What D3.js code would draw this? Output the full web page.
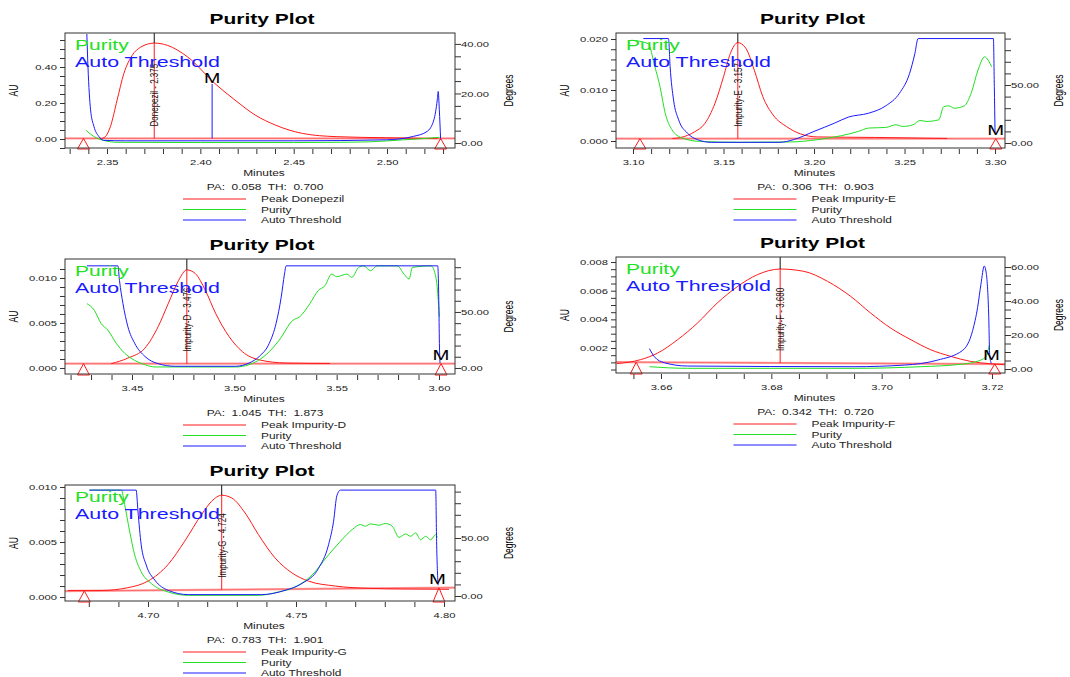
<!DOCTYPE html>
<html>
<head>
  <meta charset="utf-8">
  <title>Purity Plots</title>
  <script src="https://cdn.jsdelivr.net/npm/d3@7"></script>
  <style>
    body { margin: 0; background: #fff; }
    text { font-family: "Liberation Sans", Arial, sans-serif; white-space: pre; }
  </style>
</head>
<body>
<div id="chart"></div>
<script>
  // ---- data: [minutes, value] ----
  // peak = AU (left axis), purity / threshold = degrees (right axis)
  var donepezilPeak = [[2.3464,0.000],[2.3491,0.013],[2.3518,0.068],[2.3554,0.216],[2.3590,0.363],[2.3635,0.465],
    [2.3680,0.510],[2.3753,0.533],[2.3825,0.520],[2.3933,0.455],[2.4078,0.308],[2.4186,0.216],[2.4294,0.133],
    [2.4403,0.077],[2.4547,0.031],[2.4727,0.013],[2.4998,0.007],[2.5270,0.002]];
  var donepezilPurity = [[2.3388,5.1],[2.3428,2.7],[2.3482,1.07],[2.3554,0.3],[2.4000,0.2],[2.4500,0.2],
    [2.4727,0.3],[2.4908,0.5],[2.5088,1.3],[2.5233,2.0],[2.5280,2.3]];
  var donepezilThreshold = [[2.3392,44],[2.3398,30.9],[2.3412,13.4],[2.3430,6.7],[2.3456,2.7],[2.3482,1.1],
    [2.3600,0.9],[2.4500,0.9],[2.4998,1.3],[2.5142,2.7],[2.5215,4.7],[2.5251,9.4],[2.5269,17.4],[2.5274,20.8],
    [2.5280,13.4],[2.5287,1.3]];

  var impEPeak = [[3.1217,0.0005],[3.1264,0.0007],[3.1340,0.0018],[3.1396,0.0034],[3.1453,0.0074],[3.1500,0.0126],
    [3.1538,0.0172],[3.1579,0.0193],[3.1623,0.0182],[3.1670,0.0139],[3.1717,0.0087],[3.1774,0.0051],[3.1849,0.0028],
    [3.1925,0.0014],[3.2019,0.0008],[3.2340,0.0007],[3.2736,0.0005]];
  var impEPurity = [[3.0991,88.6],[3.1083,85.7],[3.1121,65.7],[3.1149,48.6],[3.1178,25.7],[3.1215,11.4],[3.1272,4.3],
    [3.1366,1.4],[3.1585,0.6],[3.1868,0.9],[3.2019,2.9],[3.2151,6.3],[3.2245,10],[3.2302,12.9],[3.2396,13.4],
    [3.2453,15.7],[3.2491,14.3],[3.2547,15.7],[3.2585,19.4],[3.2623,18.6],[3.2689,20],[3.2717,31.4],[3.2745,32],
    [3.2774,30],[3.2830,32],[3.2868,42.9],[3.2906,62.9],[3.2943,74.3],[3.2962,71.4],[3.2981,65.7]];
  var impEThreshold = [[3.1057,90],[3.1196,90],[3.1205,65.7],[3.1224,37],[3.1252,20],[3.1300,8.6],[3.1356,2.9],
    [3.1432,0.6],[3.1811,0.6],[3.1887,2.9],[3.2000,10],[3.2113,17.1],[3.2189,22.3],[3.2302,25.7],[3.2396,32],
    [3.2472,42.9],[3.2528,60],[3.2557,77],[3.2575,90],[3.2991,90],[3.2996,48.6],[3.3000,8.6]];

  var impDPeak = [[3.4398,0.00048],[3.4480,0.0011],[3.4563,0.0022],[3.4628,0.0046],[3.4678,0.0072],[3.4727,0.0097],
    [3.4768,0.0109],[3.4809,0.0105],[3.4859,0.0086],[3.4908,0.0061],[3.4974,0.0035],[3.5040,0.0018],[3.5122,0.0009],
    [3.5253,0.00055],[3.5467,0.0005]];
  var impDPurity = [[3.4280,57.4],[3.4316,51.5],[3.4349,39.7],[3.4382,33.8],[3.4423,22.1],[3.4464,13.2],[3.4513,6.8],
    [3.4563,2.9],[3.4612,0.9],[3.5007,0.9],[3.5072,2.9],[3.5155,11.8],[3.5220,25],[3.5286,42.6],[3.5319,45.6],
    [3.5369,57.4],[3.5410,69.1],[3.5443,73.5],[3.5475,83.8],[3.5500,81.5],[3.5550,83.8],[3.5574,80.9],[3.5607,89.7],
    [3.5632,91.2],[3.5665,86.8],[3.5698,91.2],[3.5796,91.2],[3.5829,83.8],[3.5854,79.4],[3.5870,89.7],[3.5961,91.2],
    [3.5985,80.9],[3.6002,45.6]];
  var impDThreshold = [[3.4280,91.2],[3.4431,91.2],[3.4439,77.9],[3.4456,57.4],[3.4480,36.8],[3.4513,22.1],
    [3.4563,10.3],[3.4628,3.8],[3.4711,1.5],[3.5007,1.5],[3.5072,4.4],[3.5122,10.3],[3.5171,22.1],[3.5204,39.7],
    [3.5229,63.2],[3.5245,83.8],[3.5253,91.2],[3.5994,91.2],[3.5999,60.3],[3.6002,22],[3.6005,4.4]];

  var impFPeak = [[3.6520,0.00091],[3.6563,0.00119],[3.6594,0.00165],[3.6630,0.00258],[3.6666,0.00374],
    [3.6702,0.00514],[3.6739,0.0063],[3.6775,0.00712],[3.6816,0.00751],[3.6859,0.00735],[3.6902,0.00665],
    [3.6944,0.0056],[3.6980,0.00444],[3.7016,0.0034],[3.7053,0.00258],[3.7089,0.00188],[3.7125,0.00142],
    [3.7161,0.00107],[3.7198,0.0009],[3.7222,0.00084]];
  var impFPurity = [[3.6579,1.36],[3.6648,0.4],[3.6950,0.4],[3.7071,1.36],[3.7141,2.7],[3.7171,4.3],[3.7189,7.2],
    [3.7195,14]];
  var impFThreshold = [[3.6579,12],[3.6588,7.2],[3.6606,3.7],[3.6648,1.75],[3.6950,1.36],[3.7041,2.3],[3.7101,5.2],
    [3.7147,11],[3.7165,22.7],[3.7174,36.3],[3.7180,49.9],[3.7186,60.6],[3.7189,57.7],[3.7194,32.4],[3.7196,7.2],
    [3.7199,3.3]];

  var impGPeak = [[4.6729,0.0006],[4.6842,0.0006],[4.6932,0.00085],[4.7000,0.00145],[4.7068,0.00296],[4.7124,0.00508],
    [4.7181,0.0075],[4.7215,0.0087],[4.7249,0.00925],[4.7283,0.0090],[4.7328,0.00764],[4.7373,0.00568],
    [4.7429,0.00356],[4.7486,0.0022],[4.7542,0.00145],[4.7633,0.0010],[4.7746,0.00079],[4.7859,0.00073],
    [4.8017,0.0007]];
  var impGPurity = [[4.6802,91.3],[4.6910,91.3],[4.6921,79],[4.6938,55.8],[4.6955,35.5],[4.6977,20.9],[4.7011,10.8],
    [4.7068,3.5],[4.7136,0.6],[4.7373,0.6],[4.7441,3.5],[4.7497,7.8],[4.7554,18],[4.7610,35.5],[4.7655,48.5],
    [4.7690,57.3],[4.7718,61.6],[4.7735,60.2],[4.7751,62.2],[4.7780,61],[4.7802,62.5],[4.7825,60.2],[4.7848,50.6],
    [4.7870,53.5],[4.7887,51.5],[4.7904,54.4],[4.7921,48.5],[4.7938,51.5],[4.7955,48.5],[4.7972,52.9],[4.7978,50.6]];
  var impGThreshold = [[4.6802,91.3],[4.6960,91.3],[4.6966,73.3],[4.6977,44.2],[4.6994,26.7],[4.7023,13.7],
    [4.7068,4.9],[4.7136,1.2],[4.7384,1.2],[4.7463,4.9],[4.7520,10.8],[4.7576,23.8],[4.7610,44.2],[4.7627,64.5],
    [4.7638,86.3],[4.7650,91.3],[4.7972,91.3],[4.7975,47],[4.7980,9.3]];

  // tick labels
  var p1XTicks = ["2.35","2.40","2.45","2.50"], p1AuTicks = ["0.00","0.20","0.40"], p1DegTicks = ["0.00","20.00","40.00"];
  var p2XTicks = ["3.10","3.15","3.20","3.25","3.30"], p2AuTicks = ["0.000","0.010","0.020"], p2DegTicks = ["0.00","50.00"];
  var p3XTicks = ["3.45","3.50","3.55","3.60"], p3AuTicks = ["0.000","0.005","0.010"], p3DegTicks = ["0.00","50.00"];
  var p4XTicks = ["3.66","3.68","3.70","3.72"], p4AuTicks = ["0.002","0.004","0.006","0.008"], p4DegTicks = ["0.00","20.00","40.00","60.00"];
  var p5XTicks = ["4.70","4.75","4.80"], p5AuTicks = ["0.000","0.005","0.010"], p5DegTicks = ["0.00","50.00"];

  var panels = [
    { box: {left: 65, right: 455, top: 33, bottom: 148}, x: [2.3275, 2.5364], au: [-0.05, 0.589], deg: [-2.0, 44.4],
      xMinor: [2.33, 0.01, 21], auMinor: [-0.05, 0.05, 13], degMinor: [0, 5, 9],
      xTicks: p1XTicks, auTicks: p1AuTicks, degTicks: p1DegTicks,
      peak: donepezilPeak, purity: donepezilPurity, threshold: donepezilThreshold,
      baseline: [[2.3275, 0.003], [2.5364, 0.003]], marks: [2.3374, 2.5287],
      apex: [2.3753, 0.533], name: "Donepezil", rt: "2.375", m: [2.4063, 0.306],
      pa: "PA:  0.058  TH:  0.700" },
    { box: {left: 616, right: 1005, top: 33, bottom: 148}, x: [3.0906, 3.3055], au: [-0.00137, 0.02118], deg: [-4.3, 94.8],
      xMinor: [3.10, 0.01, 21], auMinor: [0, 0.002, 11], degMinor: [0, 10, 10],
      xTicks: p2XTicks, auTicks: p2AuTicks, degTicks: p2DegTicks,
      peak: impEPeak, purity: impEPurity, threshold: impEThreshold,
      baseline: [[3.0906, 0.00046], [3.3055, 0.00046]], marks: [3.1038, 3.3004],
      apex: [3.1579, 0.0193], name: "Impurity-E", rt: "3.157", m: [3.3004, null],
      pa: "PA:  0.306  TH:  0.903" },
    { box: {left: 65, right: 455, top: 259, bottom: 374}, x: [3.41727, 3.60782], au: [-0.00067, 0.01211], deg: [-5.4, 97.3],
      xMinor: [3.42, 0.01, 19], auMinor: [0, 0.001, 12], degMinor: [0, 10, 10],
      xTicks: p3XTicks, auTicks: p3AuTicks, degTicks: p3DegTicks,
      peak: impDPeak, purity: impDPurity, threshold: impDThreshold,
      baseline: [[3.41727, 0.00048], [3.60782, 0.00048]], marks: [3.4263, 3.6010],
      apex: [3.4768, 0.0109], name: "Impurity-D", rt: "3.476", m: [3.6010, null],
      pa: "PA:  1.045  TH:  1.873" },
    { box: {left: 616, right: 1005, top: 257, bottom: 373}, x: [3.65184, 3.72236], au: [0.000258, 0.00835], deg: [-2.35, 65.9],
      xMinor: [3.655, 0.005, 14], auMinor: [0.0005, 0.0005, 16], degMinor: [0, 5, 13],
      xTicks: p4XTicks, auTicks: p4AuTicks, degTicks: p4DegTicks,
      peak: impFPeak, purity: impFPurity, threshold: impFThreshold,
      baseline: [[3.65184, 0.00102], [3.72236, 0.00088]], marks: [3.6555, 3.7205],
      apex: [3.6816, 0.00751], name: "Impurity-F", rt: "3.680", m: [3.7199, null],
      pa: "PA:  0.342  TH:  0.720" },
    { box: {left: 65, right: 455, top: 485, bottom: 601}, x: [4.67196, 4.80372], au: [-0.00036, 0.01018], deg: [-4.3, 95.7],
      xMinor: [4.68, 0.01, 13], auMinor: [0, 0.001, 11], degMinor: [0, 10, 10],
      xTicks: p5XTicks, auTicks: p5AuTicks, degTicks: p5DegTicks,
      peak: impGPeak, purity: impGPurity, threshold: impGThreshold,
      baseline: [[4.67196, 0.00054], [4.80372, 0.00085]], marks: [4.6785, 4.7983],
      apex: [4.7249, 0.00925], name: "Impurity-G", rt: "4.724", m: [4.7978, null],
      pa: "PA:  0.783  TH:  1.901" }
  ];

  var SX = 1.4;   // the export is stretched sideways, so is all its text
  var RED = "#ff1a1a", GREEN = "#22e022", BLUE = "#1a1aff";

  var svg = d3.select("#chart").append("svg")
    .attr("width", 1070).attr("height", 677)
    .style("background", "#fff");

  function txt(g, x, y, s, o) {
    o = o || {};
    var t = g.append("text")
      .attr("transform", "translate(" + x + "," + y + ") scale(" + SX + ",1)" + (o.rotate ? " rotate(-90)" : ""))
      .attr("text-anchor", o.anchor || "start")
      .attr("font-size", o.size || 8)
      .attr("fill", o.color || "#000")
      .text(s);
    if (o.bold) t.attr("font-weight", "bold");
    return t;
  }

  function tickVals(m) {
    return d3.range(m[2]).map(function(i) { return +(m[0] + i * m[1]).toFixed(6); });
  }
  function labelFor(labels, step) {
    return function(v) {
      var l = labels.find(function(s) { return Math.abs(+s - v) < step / 10; });
      return l || "";
    };
  }
  function styleAxis(a) {
    a.attr("font-size", null).attr("font-family", null);
    a.select(".domain").remove();
    a.selectAll(".tick line").attr("stroke", "#333");
    a.selectAll(".tick text").attr("font-size", 8).attr("fill", "#222");
  }

  panels.forEach(function(p, idx) {
    var b = p.box;
    var g = svg.append("g");
    var x = d3.scaleLinear().domain(p.x).range([b.left, b.right]);
    var yA = d3.scaleLinear().domain(p.au).range([b.bottom, b.top]);
    var yD = d3.scaleLinear().domain(p.deg).range([b.bottom, b.top]);
    var cx = (b.left + b.right) / 2;

    txt(g, cx + 2, b.top - 9, "Purity Plot", {size: 15, bold: true, anchor: "middle"});

    // axes
    var ax = g.append("g").attr("transform", "translate(" + b.left + ",0)")
      .call(d3.axisLeft(yA).tickValues(tickVals(p.auMinor)).tickSize(5).tickFormat(labelFor(p.auTicks, p.auMinor[1])));
    styleAxis(ax);
    ax.selectAll(".tick text").attr("x", -8 / SX).attr("transform", "scale(" + SX + ",1)");

    var ad = g.append("g").attr("transform", "translate(" + b.right + ",0)")
      .call(d3.axisRight(yD).tickValues(tickVals(p.degMinor)).tickSize(6).tickFormat(labelFor(p.degTicks, p.degMinor[1])));
    styleAxis(ad);
    ad.selectAll(".tick text").attr("x", 6 / SX).attr("transform", "scale(" + SX + ",1)");

    var axb = g.append("g").attr("transform", "translate(0," + (b.bottom + 1) + ")")
      .call(d3.axisBottom(x).tickValues(tickVals(p.xMinor)).tickSize(5).tickPadding(5).tickFormat(labelFor(p.xTicks, p.xMinor[1])));
    styleAxis(axb);
    axb.selectAll(".tick text").attr("transform", "scale(" + SX + ",1)");

    txt(g, b.left - 47, (b.top + b.bottom) / 2, "AU", {size: 8.5, rotate: true, anchor: "middle"});
    txt(g, b.right + 58, (b.top + b.bottom) / 2, "Degrees", {size: 8.5, rotate: true, anchor: "middle"});

    // plot area
    g.append("clipPath").attr("id", "clip" + idx)
      .append("rect").attr("x", b.left).attr("y", b.top).attr("width", b.right - b.left).attr("height", b.bottom - b.top);
    var plot = g.append("g").attr("clip-path", "url(#clip" + idx + ")");

    var lineA = d3.line().x(function(d) { return x(d[0]); }).y(function(d) { return yA(d[1]); });
    var lineD = d3.line().x(function(d) { return x(d[0]); }).y(function(d) { return yD(d[1]); }).curve(d3.curveMonotoneX);
    var curveA = d3.line().x(function(d) { return x(d[0]); }).y(function(d) { return yA(d[1]); }).curve(d3.curveMonotoneX);

    // baseline: light pink band with a faint red core
    plot.append("path").datum(p.baseline).attr("d", lineA)
      .attr("fill", "none").attr("stroke", "#ffa3a3").attr("stroke-width", 2.2);
    plot.append("path").datum(p.baseline).attr("d", lineA)
      .attr("fill", "none").attr("stroke", RED).attr("stroke-opacity", 0.55).attr("stroke-width", 0.7);
    plot.append("path").datum(p.peak).attr("d", curveA)
      .attr("fill", "none").attr("stroke", RED).attr("stroke-width", 1);
    plot.append("path").datum(p.purity).attr("d", lineD)
      .attr("fill", "none").attr("stroke", GREEN).attr("stroke-width", 1);
    plot.append("path").datum(p.threshold).attr("d", lineD)
      .attr("fill", "none").attr("stroke", BLUE).attr("stroke-width", 1);

    // baseline value at a given time
    var bl = d3.scaleLinear().domain([p.baseline[0][0], p.baseline[1][0]]).range([p.baseline[0][1], p.baseline[1][1]]);

    // peak apex drop line and label
    var ax0 = x(p.apex[0]);
    plot.append("line").attr("x1", ax0).attr("x2", ax0).attr("y1", b.top).attr("y2", yA(p.apex[1]))
      .attr("stroke", "#111").attr("stroke-width", 1);
    plot.append("line").attr("x1", ax0).attr("x2", ax0).attr("y1", yA(p.apex[1])).attr("y2", yA(bl(p.apex[0])))
      .attr("stroke", RED).attr("stroke-width", 1);
    txt(plot, ax0 + 4, yA(bl(p.apex[0])) - 12, p.name + " - " + p.rt, {size: 8, rotate: true, color: "#111"});

    // start / end markers
    p.marks.forEach(function(t) {
      var mx = x(t), my = yA(bl(t));
      g.append("path")
        .attr("d", "M" + mx + "," + my + "L" + (mx - 6) + "," + (b.bottom + 1) + "L" + (mx + 6) + "," + (b.bottom + 1) + "Z")
        .attr("fill", "none").attr("stroke", RED).attr("stroke-width", 1);
    });

    // M marker
    var mx = x(p.m[0]), mTop;
    if (p.m[1] !== null) {
      mTop = yA(p.m[1]);
      plot.append("line").attr("x1", mx).attr("x2", mx).attr("y1", yA(bl(p.m[0]))).attr("y2", mTop)
        .attr("stroke", BLUE).attr("stroke-width", 1);
      txt(g, mx, mTop - 1, "M", {size: 14, anchor: "middle"});
    } else {
      txt(g, mx, yA(bl(p.m[0])) - 4, "M", {size: 14.5, anchor: "middle"});
    }

    txt(g, b.left + 10, b.top + 17, "Purity", {size: 15, color: GREEN});
    txt(g, b.left + 10, b.top + 33.5, "Auto Threshold", {size: 15.3, color: BLUE});

    g.append("rect").attr("x", b.left).attr("y", b.top)
      .attr("width", b.right - b.left).attr("height", b.bottom - b.top)
      .attr("fill", "none").attr("stroke", "#333").attr("stroke-width", 1);

    // text block under the plot
    txt(g, cx + 4, b.bottom + 28, "Minutes", {size: 8.5, anchor: "middle", color: "#222"});
    txt(g, cx + 5, b.bottom + 42, p.pa, {size: 8.5, anchor: "middle", color: "#222"});
    var legend = [["Peak " + p.name, RED], ["Purity", GREEN], ["Auto Threshold", BLUE]];
    legend.forEach(function(l, i) {
      var ly = b.bottom + 51 + i * 10.5;
      g.append("line").attr("x1", cx - 77).attr("x2", cx - 14).attr("y1", ly).attr("y2", ly)
        .attr("stroke", l[1]).attr("stroke-width", 1);
      txt(g, cx + 1, ly + 3, l[0], {size: 8.5, color: "#222"});
    });
  });
</script>
</body>
</html>
